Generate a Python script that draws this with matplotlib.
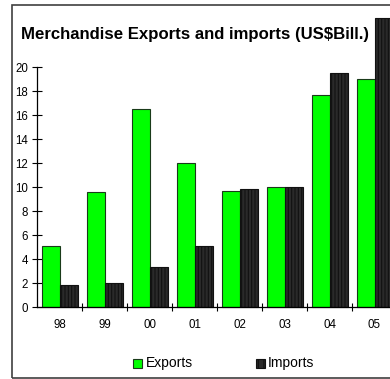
import matplotlib
matplotlib.use("Agg")
import matplotlib.pyplot as plt
from matplotlib.patches import Rectangle
import numpy as np

years = ["98", "99", "00", "01", "02", "03", "04", "05"]
exports = [5.1, 9.6, 16.5, 12.0, 9.7, 10.0, 17.7, 19.0]
imports = [1.8, 2.0, 3.3, 5.1, 9.8, 10.0, 19.5, 24.1]
y_ticks = [0, 2, 4, 6, 8, 10, 12, 14, 16, 18, 20]

plt.rcParams["font.family"] = ["Liberation Sans", "DejaVu Sans"]
plt.rcParams["hatch.linewidth"] = 0.8

W, H = 390, 379
fig = plt.figure(figsize=(W / 100, H / 100), dpi=100)

# outer frame around the whole chart
fig.patches.append(Rectangle((12 / W, 1 - 378 / H), 1.2, (378 - 5) / H,
                             transform=fig.transFigure, fill=False,
                             edgecolor="#404040", linewidth=1.2))

fig.text(21 / W, 1 - 35 / H, "Merchandise Exports and imports (US$Bill.)",
         fontsize=12.1, fontweight="bold", va="center", ha="left")

x0, x1 = 37, 37 + 45 * len(years)
y0, y1 = 307, 67
ax = fig.add_axes([x0 / W, 1 - y0 / H, (x1 - x0) / W, (y0 - y1) / H])
ax.set_facecolor("none")

x = np.arange(len(years))
bw = 0.407
ax.bar(x - bw / 2 + 0.01, exports, width=bw, color="#00FF00",
       edgecolor="#1a3a1a", linewidth=0.8, clip_on=False, zorder=3)
plt.rcParams["hatch.color"] = "#484848"
ax.bar(x + bw / 2 + 0.01, imports, width=bw, color="#2a2a2a",
       edgecolor="#111111", linewidth=0.8, hatch="|||||",
       clip_on=False, zorder=3)

ax.set_xlim(-0.5, len(years) - 0.5)
ax.set_ylim(0, 20)
ax.set_yticks(y_ticks)
ax.set_yticklabels([str(v) for v in y_ticks], fontsize=8.3)
ax.set_xticks(x)
ax.set_xticklabels(years, fontsize=8.3)
ax.set_xticks(np.arange(len(years)) + 0.5, minor=True)
ax.tick_params(axis="y", direction="inout", length=7, width=0.8, pad=3)
ax.tick_params(axis="x", which="major", length=0, pad=9)
ax.tick_params(axis="x", which="minor", direction="inout", length=6, width=0.8)
for s in ("top", "right"):
    ax.spines[s].set_visible(False)
for s in ("left", "bottom"):
    ax.spines[s].set_linewidth(0.9)
    ax.spines[s].set_zorder(4)

# legend drawn as markers and labels in figure coordinates
ly = 1 - 363 / H
fig.patches.append(Rectangle((133 / W, ly - 5 / H), 9 / W, 9 / H,
                             transform=fig.transFigure, facecolor="#00FF00",
                             edgecolor="#1a3a1a", linewidth=0.8))
fig.text(146 / W, ly, "Exports", fontsize=10, va="center", ha="left")
fig.patches.append(Rectangle((256 / W, ly - 5 / H), 9 / W, 9 / H,
                             transform=fig.transFigure, facecolor="#2a2a2a",
                             edgecolor="#111111", linewidth=0.8, hatch="|||"))
fig.text(268 / W, ly, "Imports", fontsize=10, va="center", ha="left")

fig.savefig("out.png", dpi=100)
